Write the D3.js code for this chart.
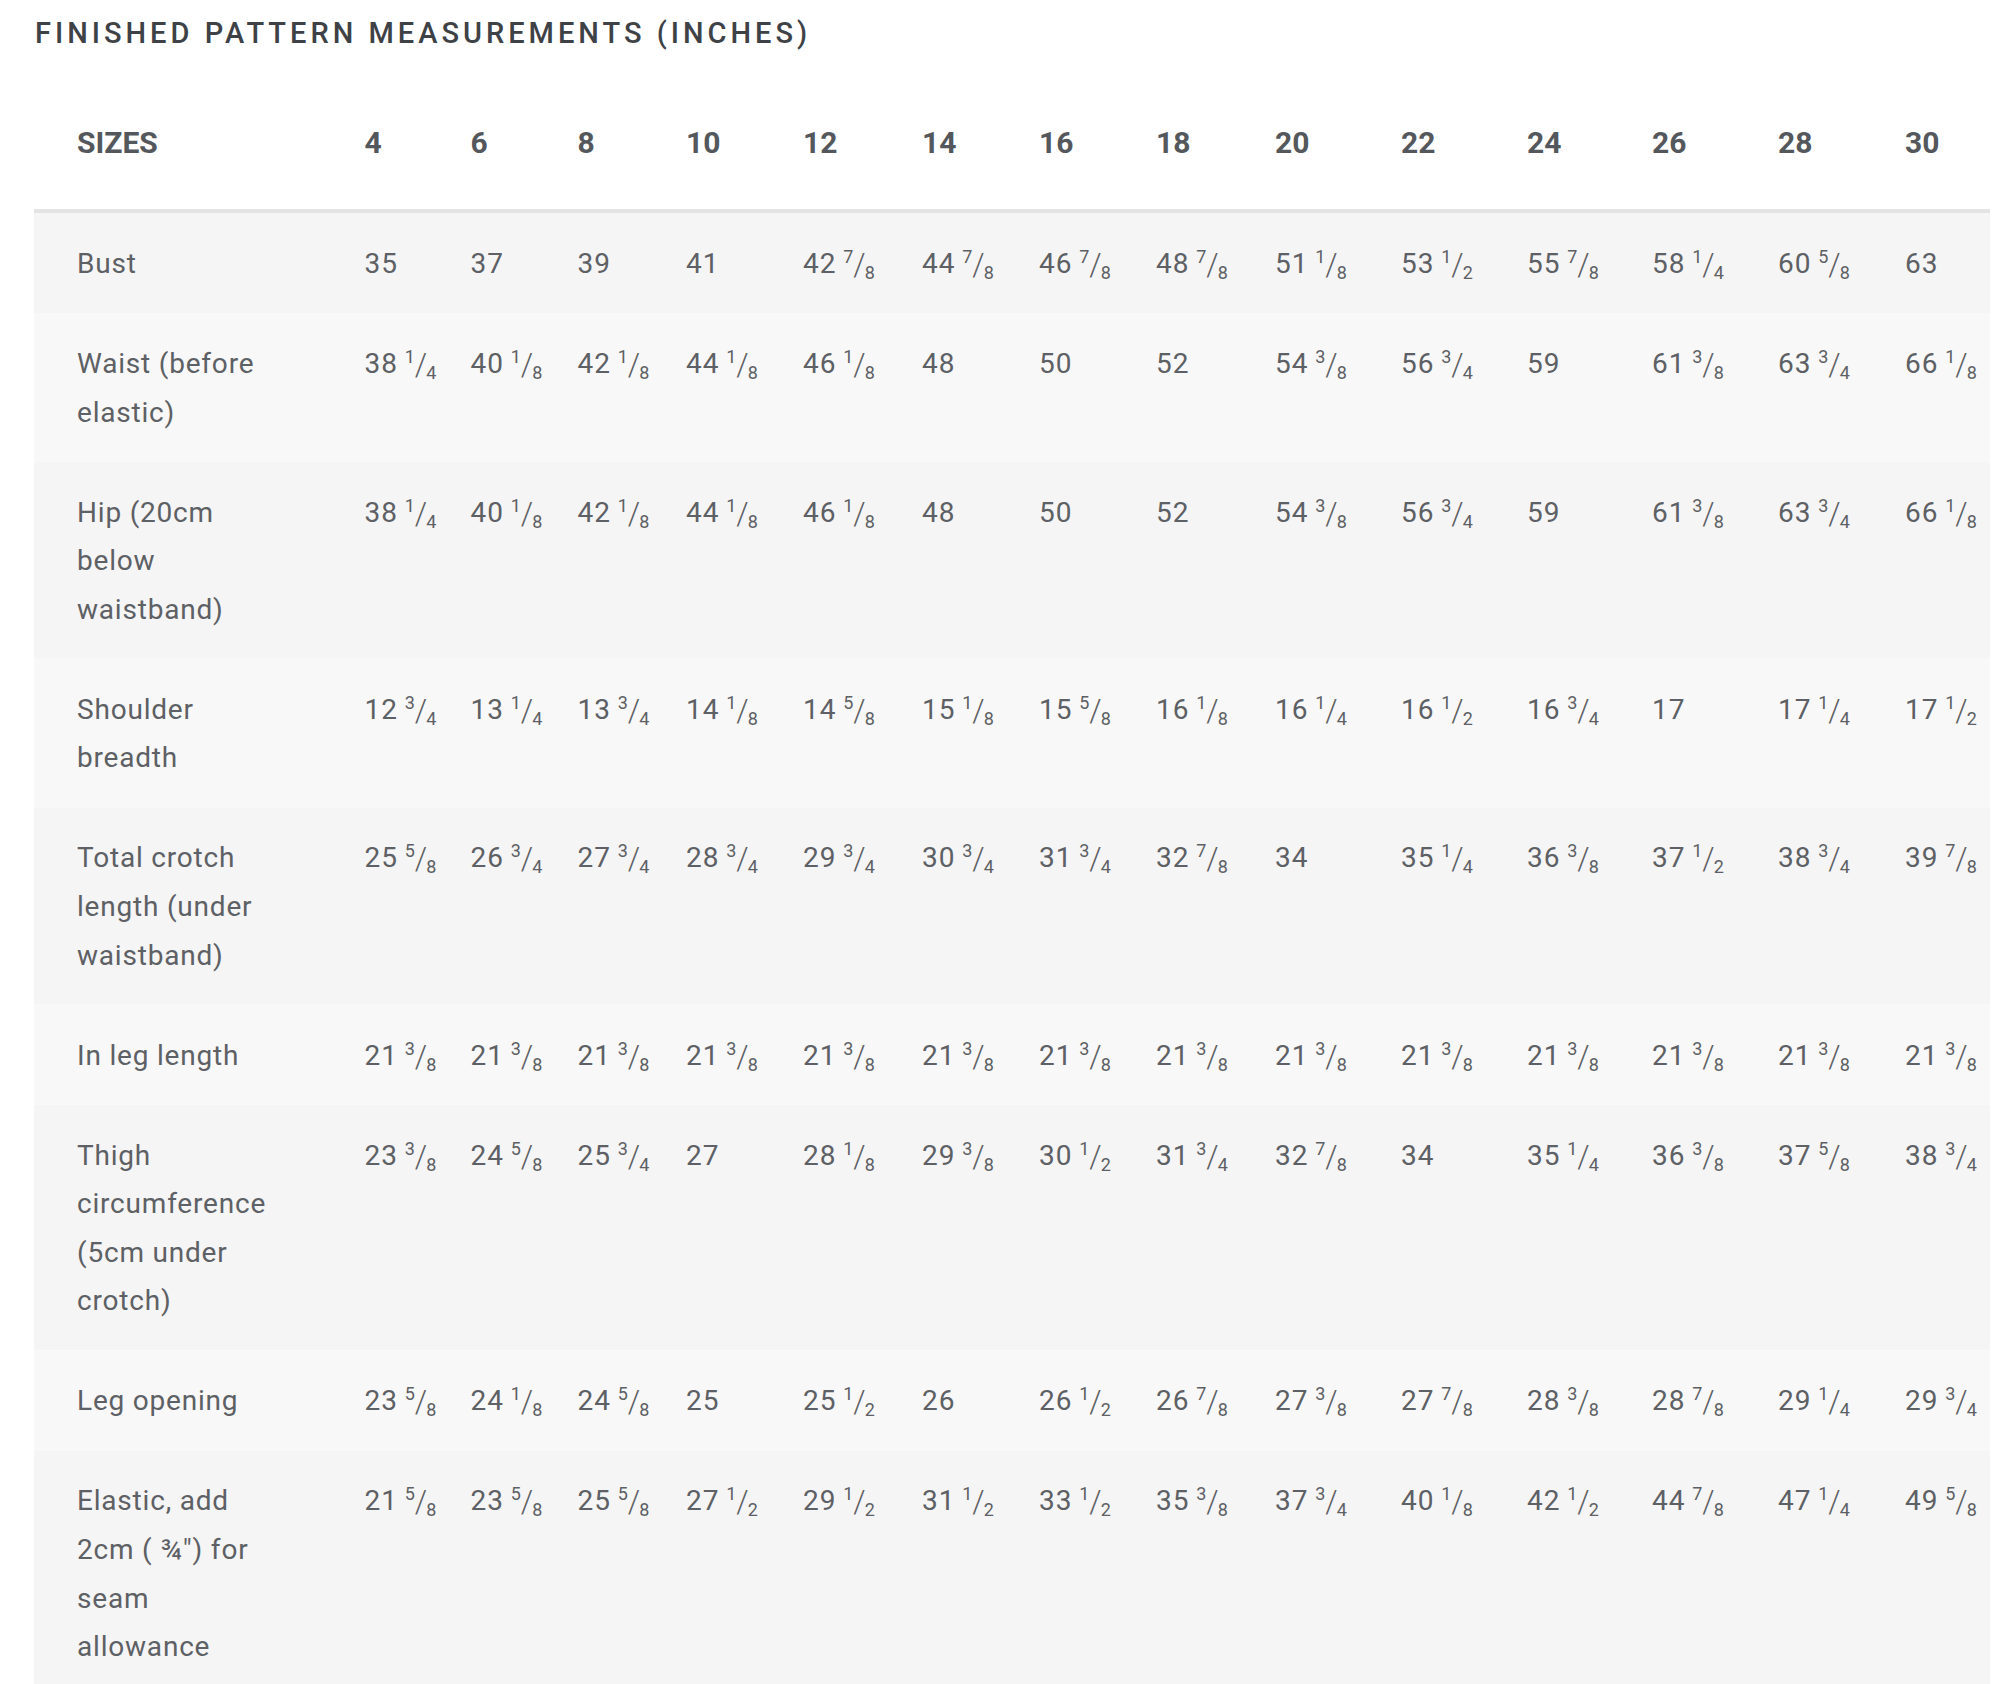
<!DOCTYPE html>
<meta charset="utf-8">

<!-- Load d3.js -->
<script src="https://d3js.org/d3.v7.min.js"></script>

<style>
  body { margin: 0; background: #fff; }
</style>

<!-- Create a div where the table will take place -->
<div id="my_dataviz"></div>

<script>

// column headers
var sizes = [4, 6, 8, 10, 12, 14, 16, 18, 20, 22, 24, 26, 28, 30]

// row headers
var measures = [
  "Bust",
  "Waist (before elastic)",
  "Hip (20cm below waistband)",
  "Shoulder breadth",
  "Total crotch length (under waistband)",
  "In leg length",
  "Thigh circumference (5cm under crotch)",
  "Leg opening",
  "Elastic, add 2cm ( \u00BE\") for seam allowance"
]

// finished measurements in inches, one list per row
var bust       = [35, 37, 39, 41, 42.875, 44.875, 46.875, 48.875, 51.125, 53.5, 55.875, 58.25, 60.625, 63]
var waist      = [38.25, 40.125, 42.125, 44.125, 46.125, 48, 50, 52, 54.375, 56.75, 59, 61.375, 63.75, 66.125]
var hip        = [38.25, 40.125, 42.125, 44.125, 46.125, 48, 50, 52, 54.375, 56.75, 59, 61.375, 63.75, 66.125]
var shoulder   = [12.75, 13.25, 13.75, 14.125, 14.625, 15.125, 15.625, 16.125, 16.25, 16.5, 16.75, 17, 17.25, 17.5]
var crotch     = [25.625, 26.75, 27.75, 28.75, 29.75, 30.75, 31.75, 32.875, 34, 35.25, 36.375, 37.5, 38.75, 39.875]
var inLeg      = [21.375, 21.375, 21.375, 21.375, 21.375, 21.375, 21.375, 21.375, 21.375, 21.375, 21.375, 21.375, 21.375, 21.375]
var thigh      = [23.375, 24.625, 25.75, 27, 28.125, 29.375, 30.5, 31.75, 32.875, 34, 35.25, 36.375, 37.625, 38.75]
var legOpening = [23.625, 24.125, 24.625, 25, 25.5, 26, 26.5, 26.875, 27.375, 27.875, 28.375, 28.875, 29.25, 29.75]
var elastic    = [21.625, 23.625, 25.625, 27.5, 29.5, 31.5, 33.5, 35.375, 37.75, 40.125, 42.5, 44.875, 47.25, 49.625]

var series = [bust, waist, hip, shoulder, crotch, inLeg, thigh, legOpening, elastic]

// layout
var width = 1999
    height = 1684
var tableLeft = 34, tableRight = 1990
var labelX = 77, wrapWidth = 212
var bodyTop = 213, lineH = 48.6, rowPad = 25.7
var fontFamily = "Roboto, 'Noto Sans', sans-serif"
var textColor = "#5d6064"

// column widths, like a <colgroup>
var firstColX = 364.6
var colWidths = [106, 107, 108.5, 117, 119, 117, 117, 119, 126, 126, 125, 126, 127]
var colX = [firstColX]
colWidths.forEach(function(w) { colX.push(colX[colX.length - 1] + w) })
var x = d3.scaleOrdinal().domain(sizes).range(colX)

var svg = d3.select("#my_dataviz")
  .append("svg")
    .attr("width", width)
    .attr("height", height)
    .style("display", "block")
    .style("font-family", fontFamily)

// title
svg.append("text")
  .attr("x", 35)
  .attr("y", 43)
  .text("FINISHED PATTERN MEASUREMENTS (INCHES)")
  .style("font-size", "29px")
  .style("font-weight", 500)
  .style("letter-spacing", "4px")
  .style("fill", "#3e4246")

// wrap a label into lines of at most wrapWidth px
var probe = svg.append("text").style("font-size", "28px").style("letter-spacing", "0.8px")
function measure(s) { probe.text(s); return probe.node().getComputedTextLength() }
function wrap(s) {
  var words = s.split(" "), lines = [], cur = ""
  words.forEach(function(w) {
    var t = cur ? cur + " " + w : w
    if (cur && measure(t) > wrapWidth) { lines.push(cur); cur = w } else cur = t
  })
  lines.push(cur)
  return lines
}

// build rows
var y = bodyTop
var rows = measures.map(function(m, i) {
  var lines = wrap(m)
  var h = lines.length * lineH + 2 * rowPad
  var r = { label: m, lines: lines, values: series[i], top: y, h: h }
  y += h
  return r
})
probe.remove()

// header underline
svg.append("rect")
  .attr("x", tableLeft).attr("y", bodyTop - 4)
  .attr("width", tableRight - tableLeft).attr("height", 4)
  .attr("fill", "#e3e3e3")

// header texts
svg.append("text")
  .attr("x", labelX).attr("y", 153)
  .text("SIZES")
  .style("font-size", "30px").style("font-weight", 700)
  .style("fill", "#54585c")

svg.selectAll("text.size")
  .data(sizes)
  .enter()
  .append("text")
    .attr("class", "size")
    .attr("x", function(d) { return x(d) })
    .attr("y", 153)
    .text(function(d) { return d })
    .style("font-size", "30px").style("font-weight", 700)
    .style("fill", "#54585c")

// body rows
var row = svg.selectAll("g.row")
  .data(rows)
  .enter()
  .append("g")
    .attr("class", "row")
    .attr("transform", function(d) { return "translate(0," + d.top + ")" })

row.append("rect")
  .attr("x", tableLeft)
  .attr("width", tableRight - tableLeft)
  .attr("height", function(d) { return d.h })
  .attr("fill", function(d, i) { return i % 2 ? "#f8f8f8" : "#f5f5f5" })

row.each(function(d) {
  var g = d3.select(this)
  d.lines.forEach(function(l, k) {
    g.append("text")
      .attr("x", labelX)
      .attr("y", rowPad + lineH * k + lineH / 2 + 10)
      .text(l)
      .style("font-size", "28px")
      .style("letter-spacing", "0.8px")
      .style("fill", textColor)
  })
})

function gcd(a, b) { return b ? gcd(b, a % b) : a }

// whole number plus a built-up fraction (numerator up, slash, denominator down)
function drawValue(t, v) {
  var whole = Math.floor(v), eighths = Math.round((v - whole) * 8)
  t.append("tspan").text(whole)
  if (!eighths) return
  var g = gcd(eighths, 8)
  t.append("tspan").attr("dx", 7).attr("dy", -10).style("font-size", "18px").style("letter-spacing", "0px").text(eighths / g)
  t.append("tspan").attr("dy", 12).style("font-size", "31px").style("font-weight", 300).style("letter-spacing", "-1px").text("/")
  t.append("tspan").attr("dy", 4).style("font-size", "18px").style("letter-spacing", "0px").text(8 / g)
}

row.selectAll("text.val")
  .data(function(d) { return d.values.map(function(v, i) { return { size: sizes[i], v: v } }) })
  .enter()
  .append("text")
    .attr("class", "val")
    .attr("x", function(d) { return x(d.size) })
    .attr("y", rowPad + lineH / 2 + 10)
    .style("font-size", "28px")
    .style("letter-spacing", "0.8px")
    .style("fill", textColor)
    .each(function(d) { drawValue(d3.select(this), d.v) })

</script>
